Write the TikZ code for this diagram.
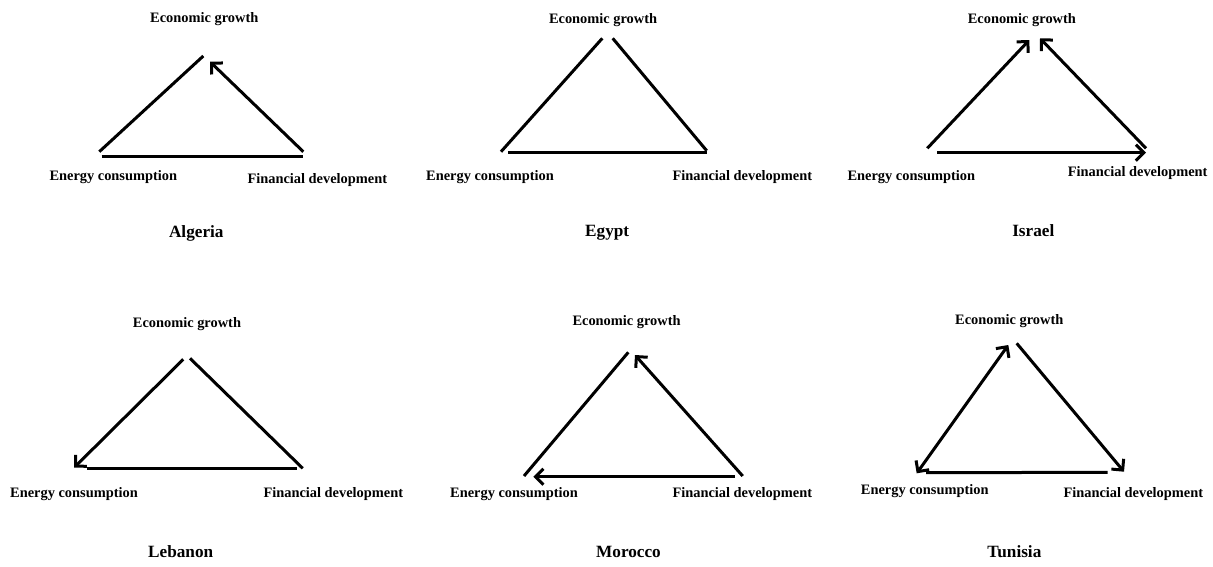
\documentclass[tikz,border=0pt]{standalone}
\usepackage{fontspec}
\setmainfont{Liberation Serif}
\usetikzlibrary{arrows.meta}
\begin{document}
\begin{tikzpicture}[x=1pt,y=-1pt,
  lbl/.style={font=\bfseries\fontsize{14.4}{16}\selectfont, inner sep=0pt, anchor=base west},
  ctitle/.style={font=\bfseries\fontsize{17.2}{19}\selectfont, inner sep=0pt, anchor=base},
  edge/.style={line width=3pt},
  tipb/.tip={Straight Barb[length=8pt,width=16pt,line width=3pt]},
  arr/.style={edge, -tipb},
  darr/.style={edge, tipb-tipb}]
\useasboundingbox (0,0) rectangle (1213,566);
% ---------------- Algeria
\node[lbl] (a-eg) at (150,22.8) {Economic growth};
\node[lbl] (a-ec) at (49.3,180.5) {Energy consumption};
\node[lbl] (a-fd) at (247.3,183.1) {Financial development};
\node[ctitle] (a-t) at (196.3,237.4) {Algeria};
\coordinate (a1) at (99.3,151.7); \coordinate (a2) at (203.3,56);
\coordinate (a3) at (303.3,151.7); \coordinate (a4) at (210,61.7);
\coordinate (a5) at (101.7,156); \coordinate (a6) at (303.3,156);
\draw[edge] (a1) -- (a2);
\draw[arr] (a3) -- (a4);
\draw[edge] (a5) -- (a6);
% ---------------- Egypt
\node[lbl] (b-eg) at (548.8,23.1) {Economic growth};
\node[lbl] (b-ec) at (426,180.5) {Energy consumption};
\node[lbl] (b-fd) at (672.3,180.5) {Financial development};
\node[ctitle] (b-t) at (607.2,236.7) {Egypt};
\coordinate (b1) at (501,151.7); \coordinate (b2) at (602.3,38.3);
\coordinate (b3) at (612.7,38.3); \coordinate (b4) at (706.7,150.7);
\coordinate (b5) at (508.3,152.3); \coordinate (b6) at (706.7,152.3);
\draw[edge] (b1) -- (b2);
\draw[edge] (b3) -- (b4);
\draw[edge] (b5) -- (b6);
% ---------------- Israel
\node[lbl] (c-eg) at (967.6,23.1) {Economic growth};
\node[lbl] (c-ec) at (847.3,180.5) {Energy consumption};
\node[lbl] (c-fd) at (1067.7,176.5) {Financial development};
\node[ctitle] (c-t) at (1033.3,236.7) {Israel};
\coordinate (c1) at (927.3,148.3); \coordinate (c2) at (1029.3,40);
\coordinate (c3) at (1146,148.3); \coordinate (c4) at (1040,38.3);
\coordinate (c5) at (937.3,152.7); \coordinate (c6) at (1146,152.7);
\draw[arr] (c1) -- (c2);
\draw[arr] (c3) -- (c4);
\draw[arr] (c5) -- (c6);
% ---------------- Lebanon
\node[lbl] (d-eg) at (132.7,327.5) {Economic growth};
\node[lbl] (d-ec) at (10,497.1) {Energy consumption};
\node[lbl] (d-fd) at (263.3,497.1) {Financial development};
\node[ctitle] (d-t) at (180.7,557) {Lebanon};
\coordinate (d1) at (183.3,359.3); \coordinate (d2) at (74,467.7);
\coordinate (d3) at (190,358.3); \coordinate (d4) at (302.7,468.3);
\coordinate (d5) at (87.3,468.3); \coordinate (d6) at (297.3,468.3);
\draw[arr] (d1) -- (d2);
\draw[edge] (d3) -- (d4);
\draw[edge] (d5) -- (d6);
% ---------------- Morocco
\node[lbl] (e-eg) at (572.3,325.8) {Economic growth};
\node[lbl] (e-ec) at (450,497.1) {Energy consumption};
\node[lbl] (e-fd) at (672.3,497.1) {Financial development};
\node[ctitle] (e-t) at (628.5,557) {Morocco};
\coordinate (e1) at (524,476); \coordinate (e2) at (628.3,352.3);
\coordinate (e3) at (742.7,476); \coordinate (e4) at (635,355);
\coordinate (e5) at (735,476.7); \coordinate (e6) at (533.3,476.7);
\draw[edge] (e1) -- (e2);
\draw[arr] (e3) -- (e4);
\draw[arr] (e5) -- (e6);
% ---------------- Tunisia
\node[lbl] (f-eg) at (955,324.1) {Economic growth};
\node[lbl] (f-ec) at (860.7,494.8) {Energy consumption};
\node[lbl] (f-fd) at (1063.3,497.1) {Financial development};
\node[ctitle] (f-t) at (1014.4,557) {Tunisia};
\coordinate (f1) at (916.7,473.3); \coordinate (f2) at (1008.3,345);
\coordinate (f3) at (1016.7,343.3); \coordinate (f4) at (1124,471.7);
\coordinate (f5) at (926,472.7); \coordinate (f6) at (1107.7,472.3);
\draw[darr] (f1) -- (f2);
\draw[arr] (f3) -- (f4);
\draw[edge] (f5) -- (f6);
\end{tikzpicture}
\end{document}
